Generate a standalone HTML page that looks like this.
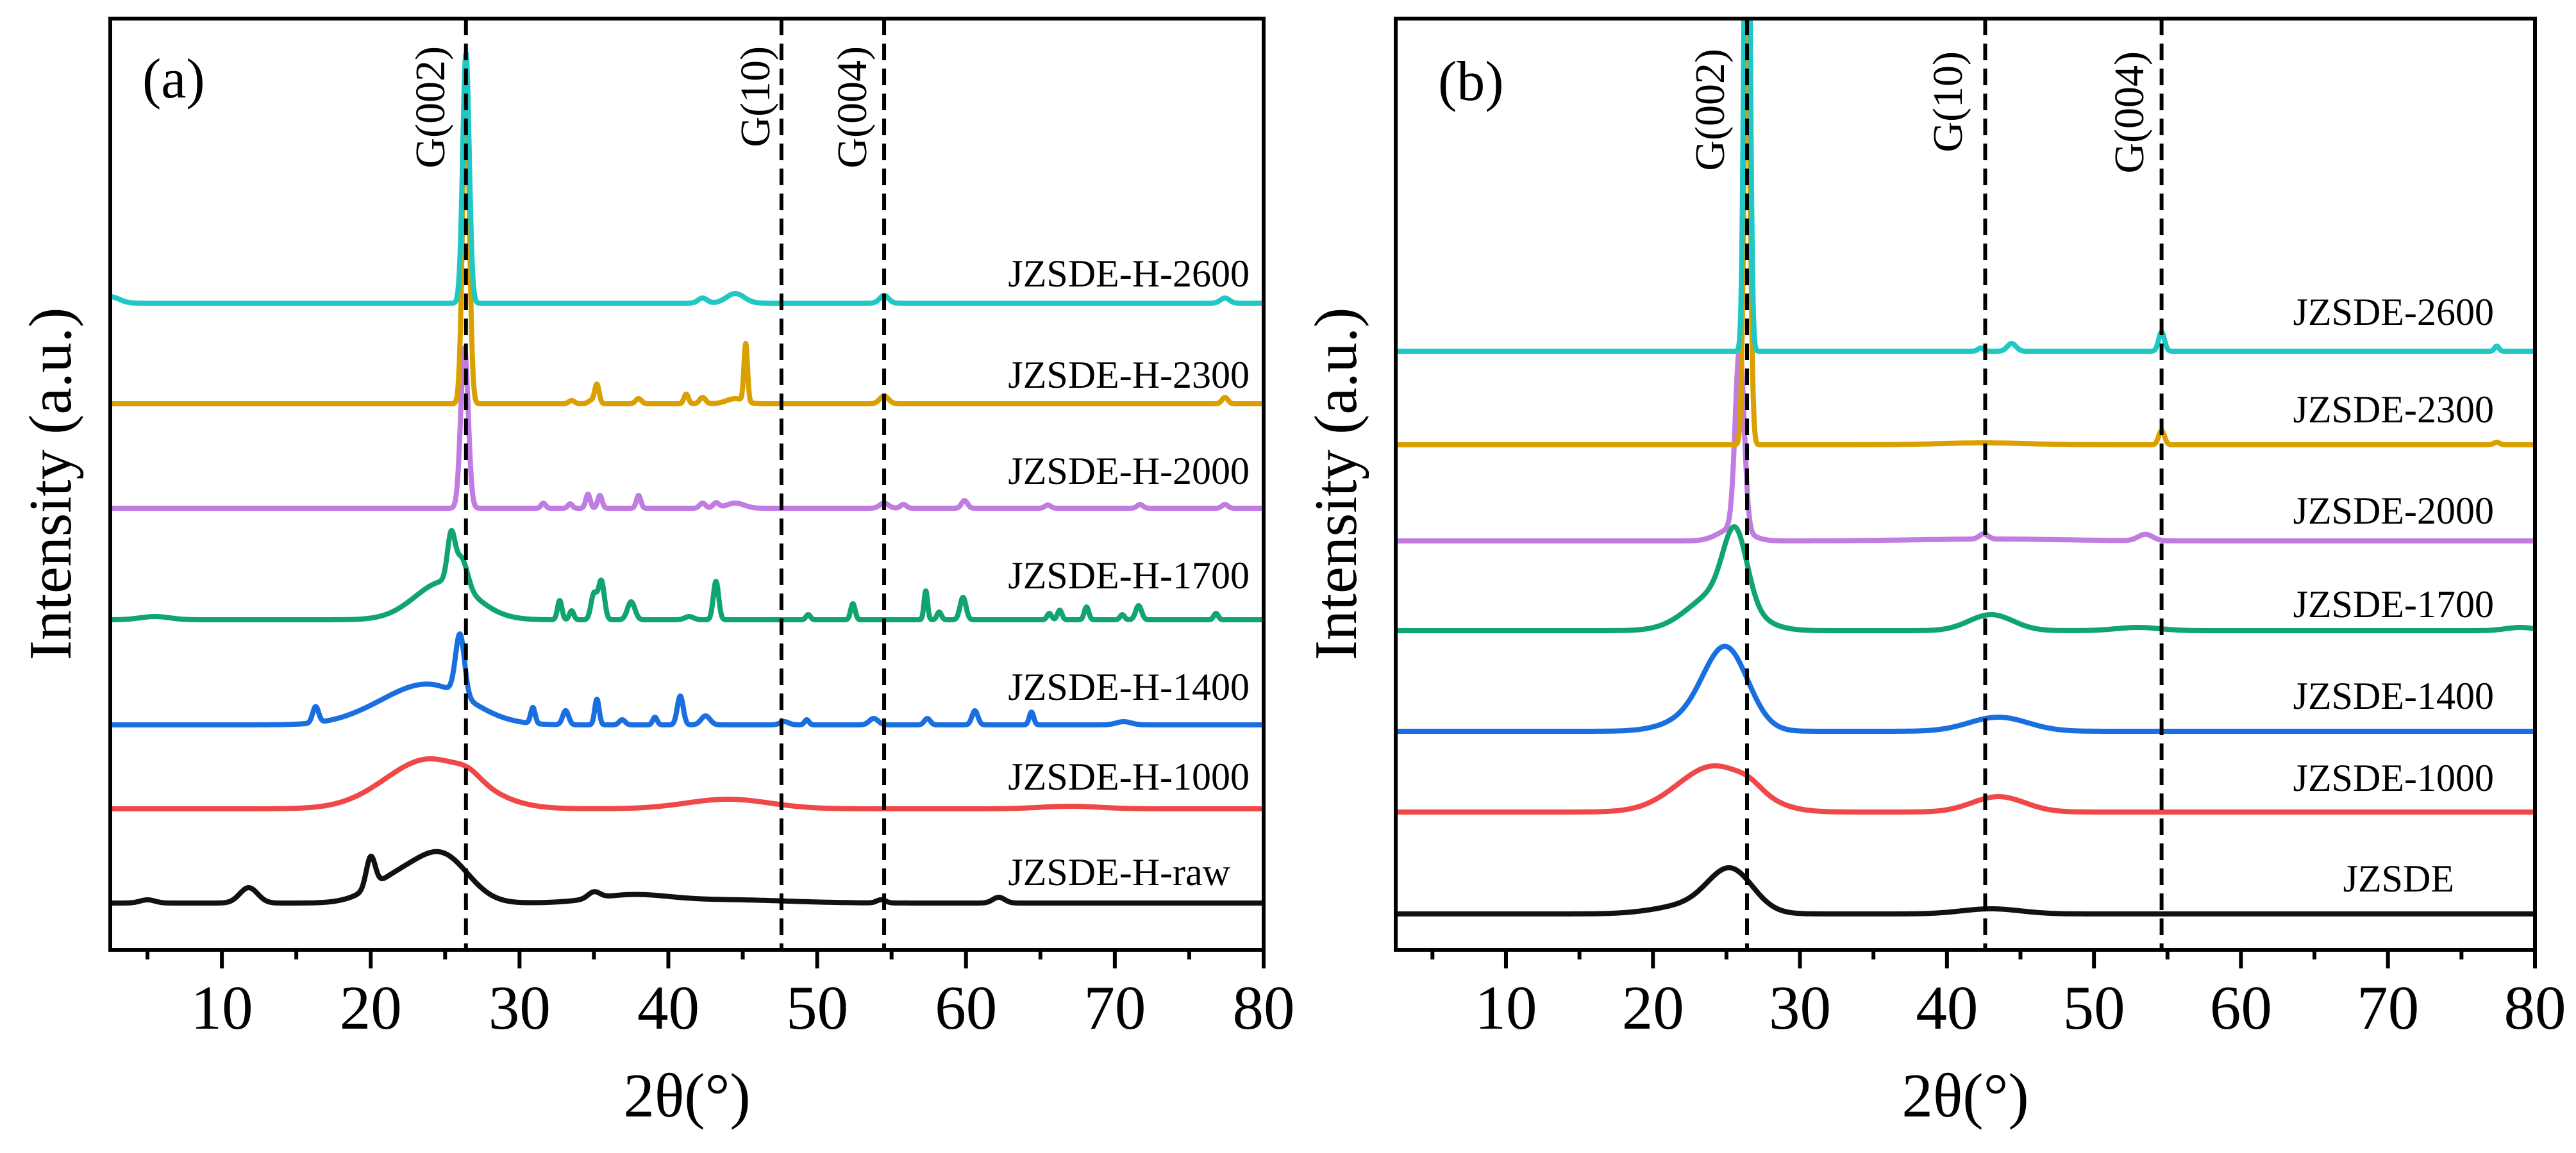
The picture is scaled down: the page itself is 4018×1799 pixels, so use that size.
<!DOCTYPE html>
<html><head><meta charset="utf-8"><style>
html,body{margin:0;padding:0;background:#fff;}
svg{display:block;}
text{font-family:"Liberation Serif","Times New Roman",serif;fill:#000;}
</style></head><body>
<svg id="chart" width="4018" height="1799" viewBox="0 0 4018 1799" xmlns="http://www.w3.org/2000/svg">
<rect x="0" y="0" width="4018" height="1799" fill="#fff"/>
</svg>
<script>
// ---------- data ----------
const xTicks = [10,20,30,40,50,60,70,80];
const xMinorTicks = [5,15,25,35,45,55,65,75];
const namesA = ["JZSDE-H-raw","JZSDE-H-1000","JZSDE-H-1400","JZSDE-H-1700","JZSDE-H-2000","JZSDE-H-2300","JZSDE-H-2600"];
const namesB = ["JZSDE","JZSDE-1000","JZSDE-1400","JZSDE-1700","JZSDE-2000","JZSDE-2300","JZSDE-2600"];
const colors = ["#111111","#f04848","#1a6fe0","#10a56e","#c07ce0","#d9a000","#1fc8c4"];
const offsetsA = [73,220,351,515,689,852,1009];
const offsetsB = [56,215,341,498,638,788,934];
const refLinesA = [26.4,47.6,54.5];
const refLinesB = [26.4,42.6,54.6];
const refNames = ["G(002)","G(10)","G(004)"];
// peaks: [center 2theta, height, width]
const peaksA_raw = [[5,5,0.5],[11.8,24,0.6],[20,48,0.3],[21.5,28,1.8],[25,58,1.7],[23.5,20,2],[35,10,0.4],[37.5,12,2.5],[44,5,4],[54.3,5,0.3],[62.2,9,0.4]];
const peaksA_1000 = [[24,78,3.0],[26.6,10,0.8],[44,15,2.8],[67,4,2]];
const peaksA_1400 = [[24.3,55,2.6],[21,18,2.5],[26,95,0.3],[16.3,25,0.2],[30.9,25,0.15],[33.1,22,0.2],[35.2,40,0.15],[36.9,8,0.2],[39.1,12,0.15],[40.8,45,0.2],[42.5,14,0.3],[47.8,5,0.3],[49.3,8,0.15],[53.8,10,0.3],[57.4,10,0.2],[60.6,22,0.2],[64.4,20,0.15],[70.6,5,0.5]];
const peaksA_1700 = [[25,60,2],[25.4,70,0.25],[26.1,45,0.4],[5.5,5,1],[32.7,30,0.15],[33.5,14,0.15],[35,40,0.2],[35.5,60,0.2],[37.5,28,0.25],[41.4,5,0.3],[43.2,60,0.18],[49.4,8,0.15],[52.4,25,0.15],[57.3,45,0.12],[58.2,12,0.15],[59.8,35,0.2],[65.6,10,0.15],[66.3,15,0.15],[68.1,20,0.15],[70.5,8,0.15],[71.6,22,0.2],[76.8,10,0.15]];
const peaksA_2000 = [[26.3,250,0.25],[31.6,8,0.15],[33.4,7,0.15],[34.6,22,0.15],[35.4,20,0.15],[38,20,0.15],[42.3,8,0.2],[43.2,8,0.2],[44.5,8,0.6],[54.5,8,0.3],[55.8,6,0.2],[59.9,12,0.2],[65.5,5,0.2],[71.7,6,0.2],[77.4,6,0.2]];
const peaksA_2300 = [[26.4,500,0.22],[33.5,5,0.2],[34.8,5,0.2],[35.2,30,0.15],[38,8,0.2],[41.2,15,0.15],[42.3,10,0.2],[44.5,8,0.6],[45.2,90,0.12],[54.5,12,0.3],[77.4,10,0.2]];
const peaksA_2600 = [[26.4,390,0.22],[2.5,10,0.6],[42.3,8,0.3],[44.5,15,0.6],[54.5,12,0.3],[77.4,8,0.3]];
const peaksB_0 = [[25.3,62,1.5],[23,15,2.5],[43,8,2]];
const peaksB_1000 = [[24.2,72,2.5],[26.6,8,0.8],[43.5,24,1.8]];
const peaksB_1400 = [[25,120,1.5],[23,20,2],[43.5,22,2]];
const peaksB_1700 = [[25.6,110,0.8],[24.5,60,2],[43,25,1.5],[53,5,1.5],[79,5,1]];
const peaksB_2000 = [[25.9,284,0.3],[25.5,20,1],[42.5,8,0.3],[43,3,5],[53.5,10,0.5]];
const peaksB_2300 = [[26.4,700,0.2],[42.5,3,3],[54.6,22,0.2],[77.4,4,0.2]];
const peaksB_2600 = [[26.4,1100,0.18],[42.3,5,0.2],[44.4,12,0.3],[54.6,30,0.2],[77.4,8,0.15]];
const seriesA = [peaksA_raw,peaksA_1000,peaksA_1400,peaksA_1700,peaksA_2000,peaksA_2300,peaksA_2600];
const seriesB = [peaksB_0,peaksB_1000,peaksB_1400,peaksB_1700,peaksB_2000,peaksB_2300,peaksB_2600];

// ---------- drawing ----------
const NS="http://www.w3.org/2000/svg";
const svg=document.getElementById('chart');
function mk(tag,attrs,parent){const e=document.createElementNS(NS,tag);for(const k in attrs)e.setAttribute(k,attrs[k]);(parent||svg).appendChild(e);return e;}

const panels=[
 {id:'a',x0:172,x1:1971,names:namesA,offs:offsetsA,series:seriesA,refs:refLinesA,
  refLab:[{x:693,top:72},{x:1200,top:72},{x:1351,top:72}],
  labRight:[1919,1949,1949,1949,1949,1949,1949],labY:[1361,1212,1072,898,735,585,427],labAnchor:'end',
  panelX:222,panelY:152},
 {id:'b',x0:2177,x1:3954,names:namesB,offs:offsetsB,series:seriesB,refs:refLinesB,
  refLab:[{x:2689,top:76},{x:3060,top:80},{x:3343,top:80}],
  labRight:[3828,3890,3890,3890,3890,3890,3890],labY:[1371,1214,1086,943,797,639,487],labAnchor:'end',
  panelX:2243,panelY:156}
];
const yTop=29,yBot=1482,xMin=2.5,xMax=80;

panels.forEach(p=>{
  const sx=v=>p.x0+(v-xMin)/(xMax-xMin)*(p.x1-p.x0);
  const sy=v=>yBot-v;
  const g=mk('g',{});
  
  
  const cp=mk('clipPath',{id:'clip'+p.id},g);
  mk('rect',{x:p.x0,y:yTop,width:p.x1-p.x0,height:yBot-yTop},cp);
  p.series.forEach((pk,i)=>{
    let d='';
    for(let x=xMin;x<=xMax+1e-9;x+=0.02){
      let v=p.offs[i];
      pk.forEach(q=>{const z=(x-q[0])/q[2];v+=q[1]*Math.exp(-0.5*z*z);});
      d+=(d?'L':'M')+sx(x).toFixed(1)+','+sy(v).toFixed(1);
    }
    const path=mk('path',{d:d,fill:'none',stroke:colors[i],'stroke-width':8,'stroke-linejoin':'round','clip-path':'url(#clip'+p.id+')'},g);
    
    
    const t=mk('text',{x:p.labRight[i],y:p.labY[i]+20,'font-size':60,'text-anchor':p.labAnchor},g);
    t.textContent=p.names[i];
    
    
  });
  p.refs.forEach((r,i)=>{
    const l=mk('line',{x1:sx(r),x2:sx(r),y1:yTop,y2:yBot,stroke:'#000','stroke-width':6,'stroke-dasharray':'26 13'},g);
    
    
    const lb=p.refLab[i];
    const t=mk('text',{x:0,y:0,'font-size':66,'text-anchor':'end',transform:'translate('+lb.x+','+lb.top+') rotate(-90)'},g);
    t.textContent=refNames[i];
    
    
  });
  const fr=mk('rect',{x:p.x0,y:yTop,width:p.x1-p.x0,height:yBot-yTop,fill:'none',stroke:'#000','stroke-width':6},g);
  
  
  xTicks.forEach(v=>{
    const tk=mk('line',{x1:sx(v),x2:sx(v),y1:yBot,y2:yBot+29,stroke:'#000','stroke-width':6},g);
    
    
    const t=mk('text',{x:sx(v),y:1605,'font-size':97,'text-anchor':'middle'},g);
    t.textContent=v;
    
    
  });
  xMinorTicks.forEach(v=>{
    const tk=mk('line',{x1:sx(v),x2:sx(v),y1:yBot,y2:yBot+15,stroke:'#000','stroke-width':6},g);
    
    
  });
  const xt=mk('text',{x:(p.x0+p.x1)/2,y:1742,'font-size':97,'text-anchor':'middle'},g);
  xt.textContent='2θ(°)';
  
  
  const yl=mk('text',{x:0,y:0,'font-size':94,'text-anchor':'middle',transform:'translate('+(p.x0-62)+',755) rotate(-90)'},g);
  yl.textContent='Intensity (a.u.)';
  
  
  const pl=mk('text',{x:p.panelX,y:p.panelY,'font-size':88},g);
  pl.textContent='('+p.id+')';
  
  
});
</script>
</body></html>
